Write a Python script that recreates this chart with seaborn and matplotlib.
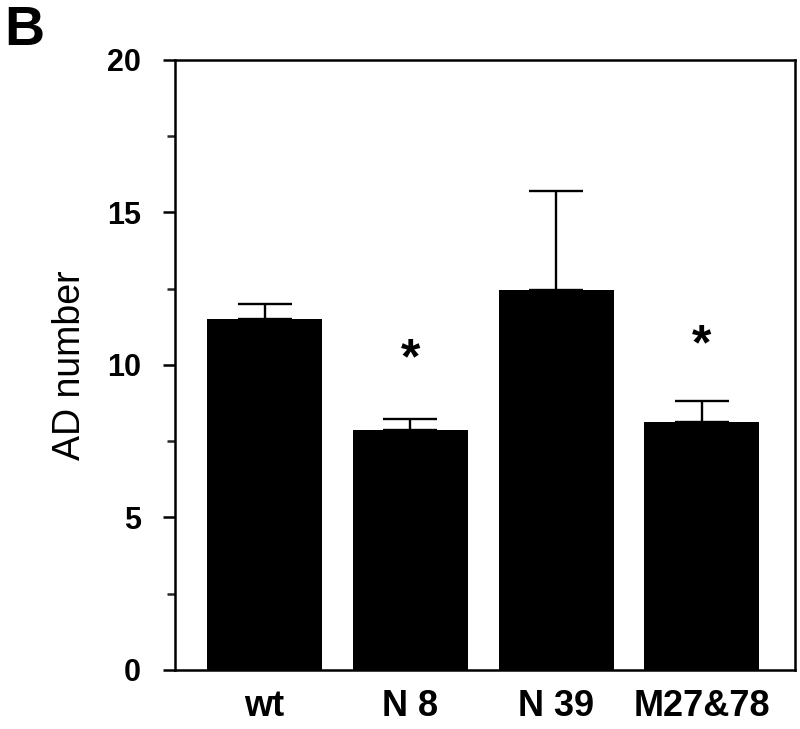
import matplotlib
matplotlib.use("Agg")
import matplotlib.pyplot as plt
import seaborn as sns
import pandas as pd
import numpy as np
from matplotlib.ticker import MultipleLocator

categories = ["wt", "N 8", "N 39", "M27&78"]
means = [11.5, 7.85, 12.45, 8.12]
errors = [0.5, 0.38, 3.25, 0.7]
significant = [False, True, False, True]
star_y = [None, 10.15, None, 10.6]

sns.set_theme(style="white")
plt.rcParams['font.family'] = ['Liberation Sans', 'DejaVu Sans']
plt.rcParams['text.color'] = 'black'
plt.rcParams['axes.labelcolor'] = 'black'

df = pd.DataFrame({"group": categories, "value": means})

fig = plt.figure(figsize=(8.0, 7.29), dpi=100)
ax = fig.add_axes([0.219, 0.081, 0.775, 0.837])

sns.barplot(data=df, x="group", y="value", color="black", width=0.79,
            saturation=1, ax=ax, errorbar=None)
for p in ax.patches:
    p.set_edgecolor("black")
    p.set_linewidth(0)

xs = np.arange(len(categories))
ax.errorbar(xs, means, yerr=[np.zeros(len(errors)), errors], fmt="none",
            ecolor="black", elinewidth=1.7, capsize=19.5, capthick=1.7, zorder=3)

for i, (sig, sy) in enumerate(zip(significant, star_y)):
    if sig:
        ax.text(xs[i], sy, "*", ha="center", va="center", fontsize=36,
                fontweight="bold", color="black")

ax.set_xlim(-0.614, 3.64)
ax.set_ylim(0, 20)
ax.yaxis.set_major_locator(MultipleLocator(5))
ax.yaxis.set_minor_locator(MultipleLocator(2.5))
ax.tick_params(axis="y", which="major", direction="out", length=8.5, width=1.8,
               pad=16, labelsize=22, left=True, colors="black")
ax.tick_params(axis="y", which="minor", direction="out", length=5.5, width=1.8, left=True)
ax.tick_params(axis="x", which="both", length=0, pad=14, labelsize=26, colors="black")
for lab in ax.get_yticklabels():
    lab.set_fontweight("bold")
for lab in ax.get_xticklabels():
    lab.set_fontweight("bold")

for s in ax.spines.values():
    s.set_visible(True)
    s.set_color("black")
    s.set_linewidth(1.8)

ax.set_xlabel("")
ax.set_ylabel("AD number", fontsize=27, color="black")
ax.yaxis.set_label_coords(-0.14, 0.5)

fig.text(0.005, 0.993, "B", fontsize=40, fontweight="bold", ha="left", va="top")

fig.savefig("out.png", dpi=100, facecolor="white")
